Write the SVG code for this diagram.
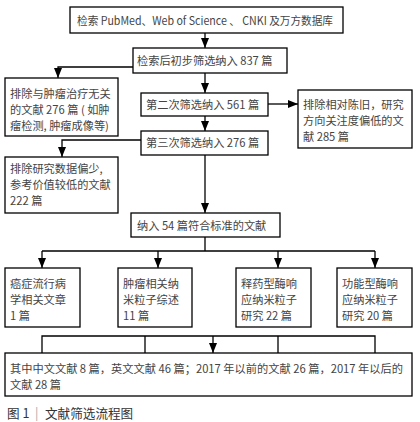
<svg xmlns="http://www.w3.org/2000/svg" width="420" height="422" viewBox="0 0 420 422">
<style>
.b{fill:#fff;stroke:#000;stroke-width:1.3}
.t{font-family:"Noto Sans CJK SC","Noto Sans",sans-serif;font-size:11.2px;fill:#444;dominant-baseline:central}
.c{fill:none;stroke:#000;stroke-width:1.3}
.a{marker-end:url(#ah)}
.cap{font-family:"Noto Sans CJK SC","Noto Sans",sans-serif;font-size:12.6px;fill:#333;dominant-baseline:central}
</style>
<defs>
<marker id="ah" markerUnits="userSpaceOnUse" markerWidth="10" markerHeight="10" viewBox="0 0 10 10" refX="10" refY="5" orient="auto">
<path d="M0,1 L10,5 L0,9 Z" fill="#000"/>
</marker>
</defs>
<rect width="420" height="422" fill="#fff"/>
<g id="connectors">
<path class="c a" d="M205,33 V48"/>
<path class="c a" d="M133,67 H58 V78"/>
<path class="c a" d="M205,73 V93"/>
<path class="c a" d="M268,104 H298"/>
<path class="c a" d="M205,116 V131"/>
<path class="c a" d="M141,140 H62 V157"/>
<path class="c a" d="M205,155 V213"/>
<path class="c" d="M205,237 V251 M42,251 H375"/>
<path class="c a" d="M42,251 V268"/>
<path class="c a" d="M158,251 V268"/>
<path class="c a" d="M278,251 V268"/>
<path class="c a" d="M375,251 V268"/>
<path class="c" d="M42,353 V336 H375 V353 M145,336 V353 M278,336 V353"/>
<path class="c a" d="M213,336 V353"/>
</g>
<g id="n1"><rect class="b" x="70" y="7" width="273" height="26"/><text class="t" x="77" y="20" textLength="256" lengthAdjust="spacingAndGlyphs">检索 PubMed、Web of Science 、 CNKI 及万方数据库</text></g>
<g id="n2"><rect class="b" x="133" y="48" width="154" height="25"/><text class="t" x="137" y="60">检索后初步筛选纳入 837 篇</text></g>
<g id="n3"><rect class="b" x="5" y="78" width="113" height="58"/><text class="t" x="10" y="93">排除与肿瘤治疗无关</text><text class="t" x="10" y="109">的文献 276 篇 ( 如肿</text><text class="t" x="10" y="125">瘤检测, 肿瘤成像等)</text></g>
<g id="n4"><rect class="b" x="141" y="93" width="127" height="23"/><text class="t" x="146" y="104">第二次筛选纳入 561 篇</text></g>
<g id="n5"><rect class="b" x="298" y="90" width="114" height="58"/><text class="t" x="303" y="104">排除相对陈旧，研究</text><text class="t" x="303" y="120">方向关注度偏低的文</text><text class="t" x="303" y="136">献 285 篇</text></g>
<g id="n6"><rect class="b" x="141" y="131" width="127" height="24"/><text class="t" x="146" y="142">第三次筛选纳入 276 篇</text></g>
<g id="n7"><rect class="b" x="5" y="157" width="113" height="56"/><text class="t" x="10" y="168">排除研究数据偏少,</text><text class="t" x="10" y="184">参考价值较低的文献</text><text class="t" x="10" y="200">222 篇</text></g>
<g id="n8"><rect class="b" x="131" y="213" width="149" height="24"/><text class="t" x="137" y="225">纳入 54 篇符合标准的文献</text></g>
<g id="n9"><rect class="b" x="5" y="268" width="75" height="59"/><text class="t" x="10" y="283">癌症流行病</text><text class="t" x="10" y="299">学相关文章</text><text class="t" x="10" y="315">1 篇</text></g>
<g id="n10"><rect class="b" x="118" y="268" width="74" height="59"/><text class="t" x="123" y="283">肿瘤相关纳</text><text class="t" x="123" y="299">米粒子综述</text><text class="t" x="123" y="315">11 篇</text></g>
<g id="n11"><rect class="b" x="236" y="268" width="75" height="59"/><text class="t" x="241" y="283">释药型酶响</text><text class="t" x="241" y="299">应纳米粒子</text><text class="t" x="241" y="315">研究 22 篇</text></g>
<g id="n12"><rect class="b" x="337" y="268" width="75" height="59"/><text class="t" x="342" y="283">功能型酶响</text><text class="t" x="342" y="299">应纳米粒子</text><text class="t" x="342" y="315">研究 20 篇</text></g>
<g id="n13"><rect class="b" x="5" y="353" width="407" height="43"/><text class="t" x="10" y="368" textLength="393" lengthAdjust="spacingAndGlyphs">其中中文文献 8 篇，英文文献 46 篇；2017 年以前的文献 26 篇，2017 年以后的</text><text class="t" x="10" y="384">文献 28 篇</text></g>
<g id="caption"><text class="cap" x="7" y="412">图 1</text><text class="cap" x="35" y="412" fill="#aaa" style="fill:#aaa">|</text><text class="cap" x="45" y="412">文献筛选流程图</text></g>
</svg>
